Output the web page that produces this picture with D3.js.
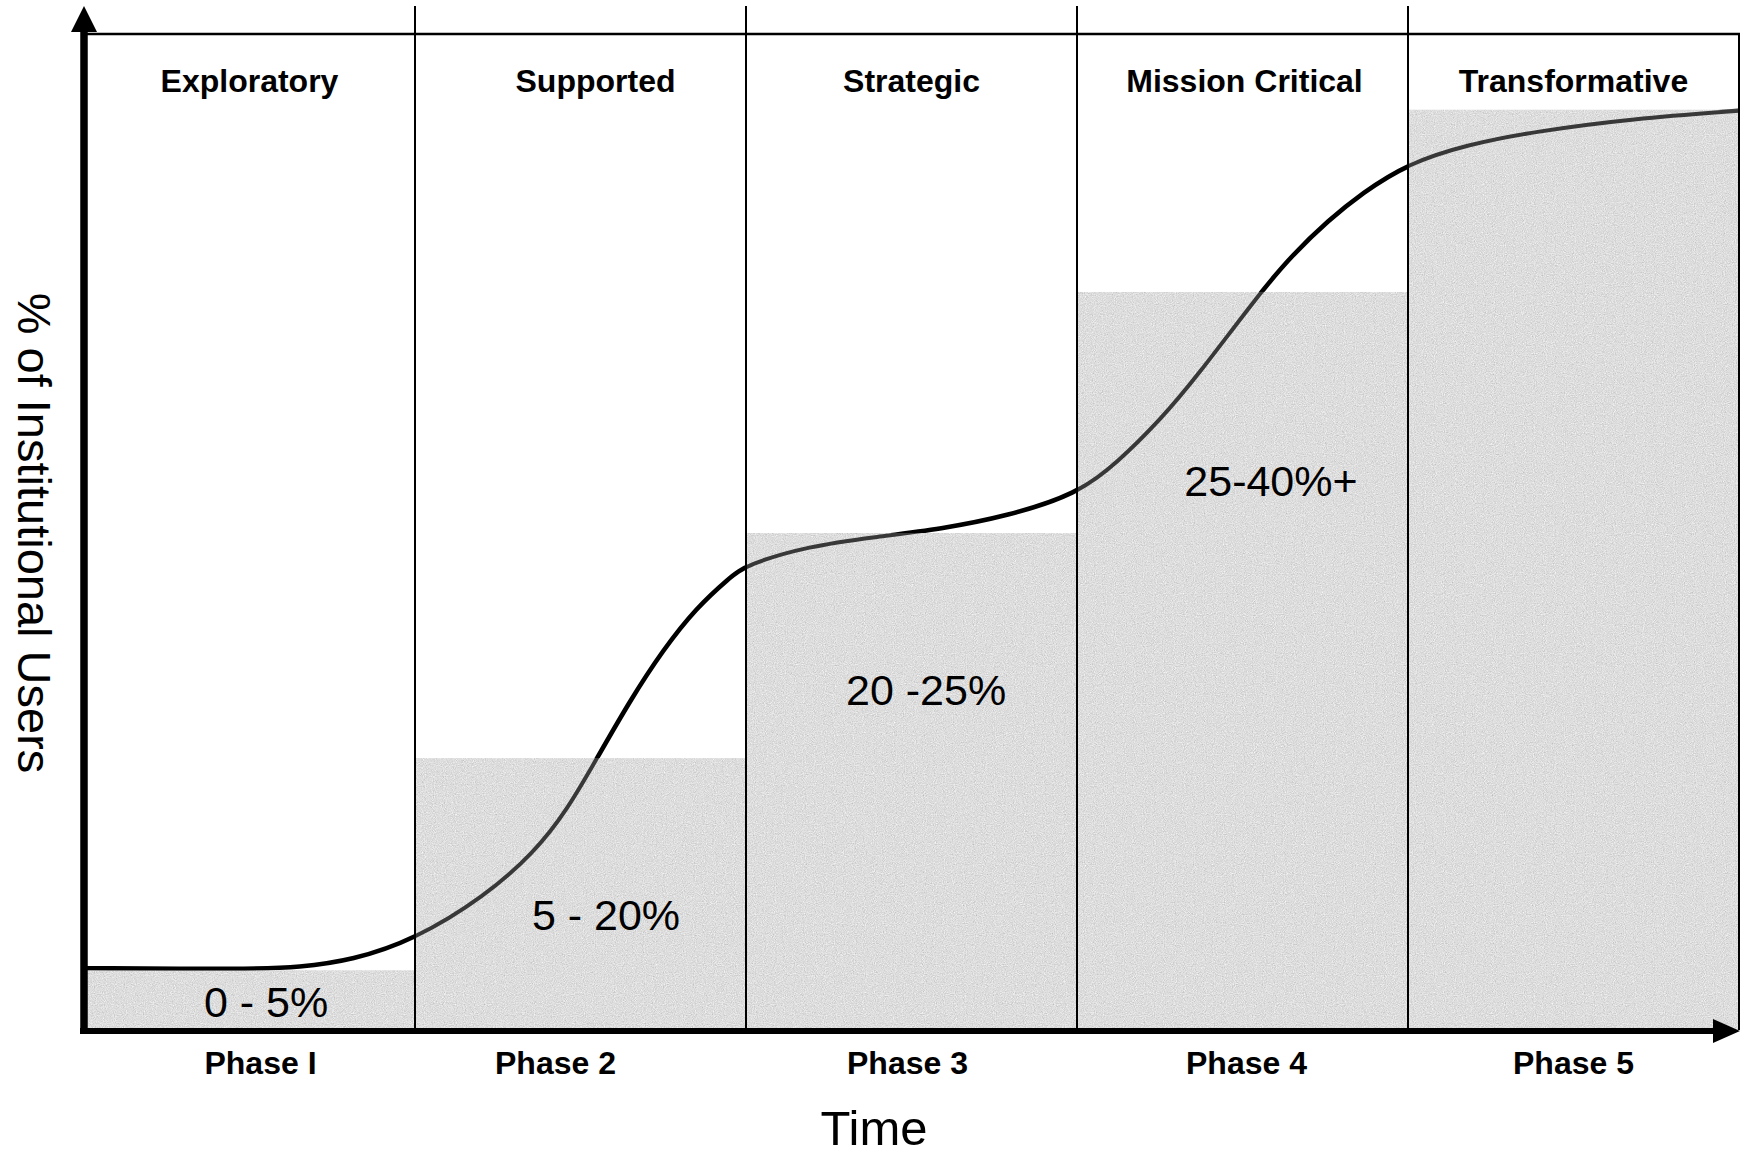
<!DOCTYPE html>
<html>
<head>
<meta charset="utf-8">
<script src="https://cdn.jsdelivr.net/npm/d3@7/dist/d3.min.js"></script>
<style>
  html, body { margin: 0; padding: 0; background: #ffffff; }
  svg { display: block; }
  text { font-family: "Liberation Sans", Arial, Helvetica, sans-serif; fill: #000; }
</style>
</head>
<body>
<svg id="chart" width="1746" height="1156"></svg>
<script>
// ---------------- DATA ----------------
const stageNames   = ["Exploratory", "Supported", "Strategic", "Mission Critical", "Transformative"];
const phaseLabels  = ["Phase I", "Phase 2", "Phase 3", "Phase 4", "Phase 5"];
// height of each phase's shaded block (share of the vertical axis, 0-100)
const stageLevel   = [6.0, 27.3, 49.9, 74.1, 92.4];
const rangeLabels  = ["0 - 5%", "5 - 20%", "20 -25%", "25-40%+"];
// adoption curve: time (phase units, 0-5) and level (0-100)
const curveTime  = [0.00, 0.50, 0.65, 0.81, 1.00, 1.21, 1.36, 1.46, 1.55, 1.65, 1.75, 1.85, 1.95, 2.00,
                    2.19, 2.39, 2.59, 2.79, 3.00, 3.12, 3.25, 3.36, 3.55, 3.65, 3.76, 3.86, 4.00, 4.18,
                    4.38, 4.68, 5.00];
const curveLevel = [6.2, 6.1, 6.3, 7.0, 9.1, 13.4, 17.8, 22.1, 27.3, 33.1, 38.2, 42.4, 45.4, 46.7,
                    48.6, 49.5, 50.3, 51.6, 53.8, 56.9, 61.2, 65.5, 73.9, 77.8, 81.3, 84.0, 87.0, 88.9,
                    90.2, 91.5, 92.3];
const xTitle = "Time";
const yTitle = "% of Institutional Users";

// ---------------- LAYOUT ----------------
const padL = 84, padR = 1739, padT = 34, padB = 1030;
const headerNudge = [0, 15, 0, 2, 0];
const phaseNudge  = [11, -25, -4, 4, 0];
const rangeSpots  = [[0.55, 1.3], [1.577, 10.0], [2.544, 32.6], [3.586, 53.6]]; // [time, level]

const svg = d3.select("#chart");
const x = d3.scaleLinear().domain([0, 5]).range([padL, padR]);
const y = d3.scaleLinear().domain([0, 100]).range([padB, padT]);

const defs = svg.append("defs");
const f = defs.append("filter").attr("id", "grain")
  .attr("x", "0%").attr("y", "0%").attr("width", "100%").attr("height", "100%")
  .attr("color-interpolation-filters", "sRGB");
f.append("feTurbulence").attr("type", "fractalNoise").attr("baseFrequency", "0.9")
  .attr("numOctaves", 2).attr("seed", 7).attr("result", "noise");
f.append("feColorMatrix").attr("in", "noise").attr("type", "matrix")
  .attr("values", "0.15 0.15 0.15 0 0.64  0.15 0.15 0.15 0 0.64  0.15 0.15 0.15 0 0.64  0 0 0 0 1")
  .attr("result", "grey");
f.append("feComposite").attr("in", "grey").attr("in2", "SourceGraphic").attr("operator", "in");

const clip = defs.append("clipPath").attr("id", "boxClip");
clip.selectAll("rect").data(stageLevel).join("rect")
  .attr("x", (d, i) => x(i)).attr("y", d => y(d))
  .attr("width", x(1) - x(0)).attr("height", d => y(0) - y(d));

const line = d3.line().x(d => x(d[0])).y(d => y(d[1])).curve(d3.curveBasis);
const pts = curveTime.map((t, i) => [t, curveLevel[i]]);

// curve (black, outside boxes)
svg.append("path").attr("d", line(pts)).attr("fill", "none")
  .attr("stroke", "#000").attr("stroke-width", 4.6);

// shaded blocks
svg.append("g").attr("filter", "url(#grain)")
  .selectAll("rect").data(stageLevel).join("rect")
  .attr("x", (d, i) => x(i)).attr("y", d => y(d))
  .attr("width", x(1) - x(0)).attr("height", d => y(0) - y(d))
  .attr("fill", "#d4d4d4");

// curve seen through the blocks
svg.append("path").attr("d", line(pts)).attr("fill", "none")
  .attr("clip-path", "url(#boxClip)")
  .attr("stroke", "#383838").attr("stroke-width", 4);

// dividers
svg.append("g").selectAll("line").data([1, 2, 3, 4]).join("line")
  .attr("x1", d => x(d)).attr("x2", d => x(d))
  .attr("y1", 6).attr("y2", padB)
  .attr("stroke", "#000").attr("stroke-width", 2);

// top & right frame
svg.append("line").attr("x1", padL).attr("x2", padR + 1).attr("y1", padT).attr("y2", padT)
  .attr("stroke", "#000").attr("stroke-width", 2.5);
svg.append("line").attr("x1", padR).attr("x2", padR).attr("y1", padT).attr("y2", padB)
  .attr("stroke", "#000").attr("stroke-width", 2);

// axes
svg.append("line").attr("x1", padL).attr("x2", padL).attr("y1", 28).attr("y2", padB)
  .attr("stroke", "#000").attr("stroke-width", 7.5);
svg.append("path").attr("d", `M${padL},6 L${padL + 13},32 L${padL - 13},32 Z`).attr("fill", "#000");
svg.append("line").attr("x1", padL - 4).attr("x2", 1716).attr("y1", padB + 1).attr("y2", padB + 1)
  .attr("stroke", "#000").attr("stroke-width", 6);
svg.append("path").attr("d", `M${padR + 1},${padB + 1} L1713,${padB - 11} L1713,${padB + 13} Z`).attr("fill", "#000");

// stage headers
svg.append("g").selectAll("text").data(stageNames).join("text")
  .attr("x", (d, i) => x(i + 0.5) + headerNudge[i]).attr("y", 92)
  .attr("text-anchor", "middle").attr("font-size", 32).attr("font-weight", "bold")
  .text(d => d);

// phase labels
svg.append("g").selectAll("text").data(phaseLabels).join("text")
  .attr("x", (d, i) => x(i + 0.5) + phaseNudge[i]).attr("y", 1074)
  .attr("text-anchor", "middle").attr("font-size", 32).attr("font-weight", "bold")
  .text(d => d);

// range labels
svg.append("g").selectAll("text").data(rangeLabels).join("text")
  .attr("x", (d, i) => x(rangeSpots[i][0])).attr("y", (d, i) => y(rangeSpots[i][1]))
  .attr("text-anchor", "middle").attr("font-size", 43)
  .text(d => d);

// axis titles
svg.append("text").attr("x", 874).attr("y", 1145).attr("text-anchor", "middle")
  .attr("font-size", 49).text(xTitle);
svg.append("text").attr("transform", "translate(18,533) rotate(90)")
  .attr("text-anchor", "middle").attr("font-size", 47).text(yTitle);
</script>
</body>
</html>
